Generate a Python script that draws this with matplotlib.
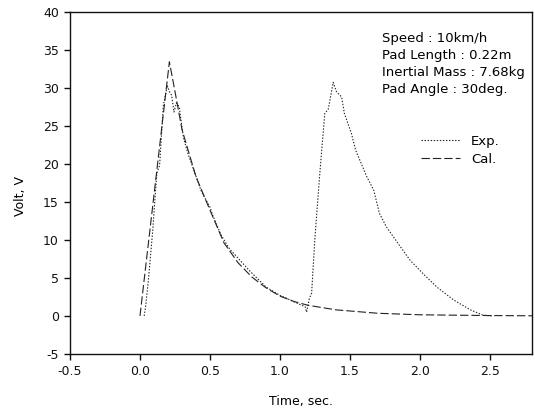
"""
Volt vs. time: measured (Exp.) and calculated (Cal.) output.
"""

import matplotlib.pyplot as plt

# ── Data ───────────────────────────────────────────────────────
exp_t = [0.03, 0.04, 0.06, 0.09, 0.12, 0.14, 0.167, 0.195, 0.21, 0.226,
         0.243, 0.26, 0.28, 0.31, 0.34, 0.38, 0.44, 0.50, 0.52, 0.58,
         0.64, 0.69, 0.79, 0.90, 1.00, 1.05, 1.12, 1.18, 1.19, 1.21,
         1.226, 1.25, 1.286, 1.32, 1.345, 1.38, 1.405, 1.44, 1.46, 1.51,
         1.54, 1.62, 1.67, 1.71, 1.76, 1.86, 1.93, 2.02, 2.12, 2.24,
         2.36, 2.45, 2.52]
exp_v = [0.0, 1.2, 4.7, 11.0, 18.7, 19.8, 27.7, 30.3, 29.5, 29.0,
         26.8, 28.0, 27.5, 23.5, 21.5, 19.4, 16.3, 14.3, 13.2, 10.6,
         8.8, 7.8, 5.8, 3.8, 2.7, 2.3, 1.7, 1.2, 0.5, 2.3,
         3.0, 10.4, 19.1, 26.6, 27.2, 30.7, 29.4, 28.8, 26.6, 24.0,
         21.8, 18.3, 16.5, 13.5, 11.7, 9.1, 7.3, 5.6, 3.8, 2.1,
         0.8, 0.1, 0.0]

cal_t = [0.0, 0.21, 0.25, 0.30, 0.40, 0.50, 0.60, 0.70, 0.80, 0.90,
         1.00, 1.10, 1.20, 1.40, 1.70, 2.00, 2.50, 2.80]
cal_v = [0.0, 33.4, 29.5, 24.5, 18.3, 13.9, 9.6, 7.0, 5.1, 3.7,
         2.6, 1.9, 1.4, 0.8, 0.35, 0.15, 0.05, 0.02]

info_lines = ['Speed : 10km/h', 'Pad Length : 0.22m',
              'Inertial Mass : 7.68kg', 'Pad Angle : 30deg.']
# ───────────────────────────────────────────────────────────────

plt.rcParams['font.family'] = 'DejaVu Sans'
plt.rcParams['lines.scale_dashes'] = False
plt.rcParams['axes.unicode_minus'] = False

fig = plt.figure(figsize=(5.35, 4.13), dpi=100)
ax = fig.add_axes([0.1308, 0.1429, 0.8636, 0.829])

ax.plot(exp_t, exp_v, color='#222222', linewidth=0.8,
        dashes=(1.0, 1.2), label='Exp.')
ax.plot(cal_t, cal_v, color='#222222', linewidth=0.8,
        dashes=(6.0, 2.2), label='Cal.')

ax.set_xlim(-0.5, 2.8)
ax.set_ylim(-5, 40)
ax.set_xticks([-0.5, 0.0, 0.5, 1.0, 1.5, 2.0, 2.5])
ax.set_xticklabels(['-0.5', '0.0', '0.5', '1.0', '1.5', '2.0', '2.5'])
ax.set_yticks(range(-5, 41, 5))

ax.tick_params(direction='out', length=4.5, width=1.0, labelsize=9,
               colors='#111111', top=False, right=False)
for sp in ax.spines.values():
    sp.set_linewidth(1.0)
    sp.set_color('#111111')

ax.set_xlabel('Time, sec.', fontsize=9)
ax.set_ylabel('Volt, V', fontsize=9)
ax.xaxis.set_label_coords(0.5, -0.12)
ax.yaxis.set_label_coords(-0.093, 0.46)

ax.text(0.675, 0.847, '\n'.join(info_lines), transform=ax.transAxes,
        fontsize=9.5, va='center', ha='left', linespacing=1.38)

ax.legend(loc='upper left', bbox_to_anchor=(0.745, 0.66), frameon=False,
          fontsize=9.5, handlelength=3.0, handletextpad=0.8,
          labelspacing=0.4, borderpad=0.0)

fig.savefig('out.png', dpi=100)
